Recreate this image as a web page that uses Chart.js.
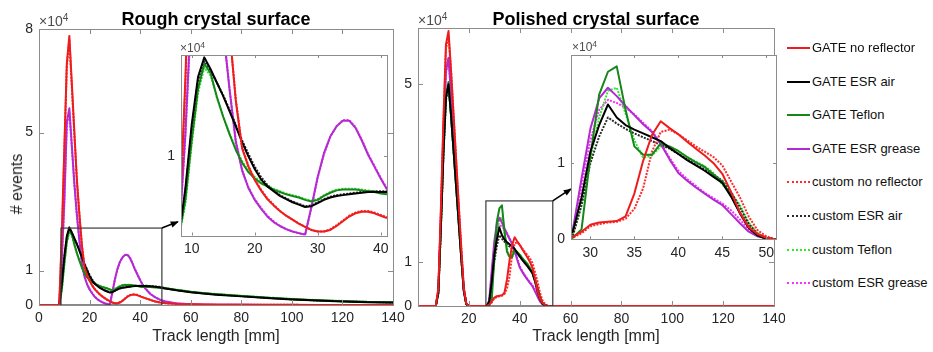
<!DOCTYPE html>
<html><head><meta charset="utf-8">
<script src="https://cdn.jsdelivr.net/npm/chart.js@4.4.1/dist/chart.umd.min.js"></script>
<style>
html,body{margin:0;padding:0;background:#fff;}
#wrap{position:relative;width:933px;height:352px;overflow:hidden;font-family:"Liberation Sans",Arial,Helvetica,sans-serif;color:#262626;}
canvas{position:absolute;}
.lbl{position:absolute;white-space:nowrap;line-height:1;}
.exp{position:absolute;white-space:nowrap;line-height:1;color:#4d4d4d;}
.exp sup{font-size:0.72em;vertical-align:0.5em;line-height:0}
.leg{position:absolute;left:787px;height:15px;width:146px;font-size:13px;line-height:15px;white-space:nowrap;color:#111}
.leg i{position:absolute;left:0;top:7px;width:23px;height:0;border-top-width:2px;}
.leg span{position:absolute;left:25px;top:0}
</style></head>
<body><div id="wrap">
<canvas id="c1" width="412" height="352" style="left:0;top:0"></canvas>
<canvas id="c3" width="390" height="352" style="left:395px;top:0"></canvas>
<canvas id="c2" width="235" height="220" style="left:160px;top:40px"></canvas>
<canvas id="c4" width="233" height="225" style="left:550px;top:40px"></canvas>
<div class="lbl" style="left:216px;top:10px;transform:translateX(-50%);font-weight:bold;font-size:18px;color:#000">Rough crystal surface</div>
<div class="lbl" style="left:596px;top:10px;transform:translateX(-50%);font-weight:bold;font-size:18px;color:#000">Polished crystal surface</div>
<div class="lbl" style="left:216px;top:328px;transform:translateX(-50%);font-size:16px">Track length [mm]</div>
<div class="lbl" style="left:596px;top:328px;transform:translateX(-50%);font-size:16px">Track length [mm]</div>
<div class="lbl" style="left:17px;top:184px;transform:translate(-50%,-50%) rotate(-90deg);font-size:16px"># events</div>
<div class="exp" style="left:39px;top:14px;font-size:14px">×10<sup>4</sup></div>
<div class="exp" style="left:418px;top:13px;font-size:14px">×10<sup>4</sup></div>
<div class="exp" style="left:180px;top:42px;font-size:12px">×10<sup>4</sup></div>
<div class="exp" style="left:572px;top:41px;font-size:12px">×10<sup>4</sup></div>
<div id="legend"></div>
</div>
<script>
// ---------- DATA (values in units of 10^4 events) ----------
const seriesNames = ['GATE no reflector','GATE ESR air','GATE Teflon','GATE ESR grease',
  'custom no reflector','custom ESR air','custom Teflon','custom ESR grease'];

// Rough crystal surface: track length [mm]
const roughX = [0,8,9,10,11,12,13,14,15,16,17,18,19,20,21,22,23,24,25,26,27,28,29,30,31,32,33,34,35,36,37,38,39,40,41,42,44,46,48,50,55,60,65,70,80,90,100,110,120,130,140];
const roughGateNoRefl = [0,0,2.0,4.5,7.0,7.8,6.4,5.0,3.6,2.6,1.7,1.1,0.87,0.7,0.57,0.46,0.38,0.31,0.25,0.2,0.15,0.11,0.07,0.05,0.05,0.07,0.12,0.18,0.24,0.28,0.3,0.3,0.28,0.25,0.22,0.2,0.15,0.1,0.07,0.05,0.03,0.02,0.015,0.01,0.01,0.005,0.005,0,0,0,0];
const roughGateEsrAir = [0,0,0.6,1.4,2.0,2.25,2.1,1.93,1.76,1.57,1.38,1.18,1.0,0.84,0.71,0.62,0.56,0.5,0.46,0.42,0.39,0.36,0.37,0.41,0.45,0.48,0.5,0.51,0.52,0.53,0.54,0.55,0.55,0.55,0.55,0.55,0.54,0.53,0.51,0.48,0.42,0.37,0.33,0.3,0.25,0.2,0.16,0.13,0.1,0.08,0.07];
const roughGateTeflon = [0,0,0.45,1.2,1.85,2.17,2.05,1.75,1.5,1.28,1.08,0.92,0.8,0.72,0.66,0.62,0.58,0.55,0.52,0.5,0.48,0.45,0.43,0.45,0.5,0.54,0.57,0.58,0.58,0.58,0.57,0.56,0.55,0.53,0.52,0.52,0.52,0.51,0.5,0.48,0.43,0.38,0.34,0.31,0.26,0.21,0.17,0.14,0.11,0.09,0.075];
const roughGateEsrGrease = [0,0,1.3,3.0,5.3,5.7,4.6,3.5,2.6,1.85,1.18,0.82,0.6,0.45,0.34,0.24,0.17,0.12,0.08,0.05,0.03,0.01,0.36,0.74,1.04,1.25,1.38,1.45,1.45,1.36,1.2,1.02,0.87,0.72,0.58,0.48,0.32,0.22,0.15,0.1,0.04,0.02,0.01,0.01,0.005,0,0,0,0,0,0];
const roughCustNoRefl = [0,0,1.9,4.4,6.9,7.7,6.3,4.9,3.6,2.6,1.72,1.12,0.88,0.71,0.58,0.47,0.39,0.31,0.25,0.2,0.15,0.11,0.07,0.05,0.05,0.08,0.13,0.19,0.25,0.29,0.31,0.31,0.29,0.26,0.23,0.2,0.15,0.1,0.07,0.05,0.03,0.02,0.015,0.01,0.01,0.005,0.005,0,0,0,0];
const roughCustEsrAir = [0,0,0.55,1.35,1.95,2.2,2.08,1.93,1.77,1.59,1.4,1.2,1.03,0.87,0.74,0.64,0.57,0.51,0.47,0.43,0.4,0.37,0.38,0.42,0.46,0.49,0.51,0.52,0.53,0.54,0.55,0.55,0.56,0.56,0.56,0.56,0.55,0.54,0.52,0.49,0.43,0.38,0.34,0.31,0.26,0.21,0.17,0.13,0.11,0.09,0.07];
const roughCustTeflon = [0,0,0.4,1.15,1.8,2.12,2.02,1.74,1.5,1.29,1.1,0.94,0.82,0.74,0.68,0.63,0.59,0.56,0.53,0.51,0.49,0.46,0.44,0.46,0.51,0.55,0.58,0.59,0.59,0.59,0.58,0.57,0.56,0.54,0.53,0.53,0.53,0.52,0.51,0.49,0.44,0.39,0.35,0.32,0.27,0.22,0.18,0.14,0.12,0.09,0.08];
const roughCustEsrGrease = [0,0,1.25,2.9,5.2,5.6,4.55,3.5,2.6,1.86,1.2,0.83,0.61,0.46,0.35,0.25,0.18,0.12,0.08,0.05,0.03,0.01,0.35,0.73,1.03,1.25,1.38,1.46,1.46,1.37,1.21,1.03,0.88,0.73,0.59,0.49,0.33,0.22,0.15,0.1,0.04,0.02,0.01,0.01,0.005,0,0,0,0,0,0];

// Polished crystal surface
const polX = [0,7,8,9,10,11,12,13,14,15,16,17,18,19,20,27,28,29,30,31,32,33,34,35,36,37,38,39,40,41,42,43,44,45,46,47,48,49,50,51,140];
const polGateNoRefl = [0,0,0.4,2.2,4.2,5.9,6.2,5.3,4.3,3.3,2.3,1.3,0.4,0.05,0, 0,0.03,0.1,0.19,0.22,0.23,0.24,0.3,0.6,1.03,1.37,1.55,1.46,1.38,1.28,1.19,1.1,1.0,0.86,0.62,0.35,0.16,0.07,0.02,0, 0];
const polGateEsrAir = [0,0,0.3,1.8,3.45,4.7,5.0,4.3,3.5,2.7,1.9,1.1,0.35,0.04,0, 0,0.1,0.55,1.15,1.5,1.77,1.6,1.5,1.44,1.39,1.34,1.29,1.2,1.12,1.04,0.97,0.9,0.82,0.74,0.56,0.34,0.15,0.05,0.01,0, 0];
const polGateTeflon = [0,0,0.3,1.8,3.5,4.75,5.05,4.3,3.5,2.7,1.9,1.1,0.35,0.04,0, 0,0.02,0.13,1.09,1.9,2.2,2.27,1.7,1.22,1.11,1.11,1.26,1.22,1.16,1.08,1.01,0.95,0.85,0.76,0.57,0.35,0.16,0.05,0.01,0, 0];
const polGateEsrGrease = [0,0,0.35,2.0,3.9,5.3,5.6,4.8,3.9,3.0,2.1,1.2,0.35,0.04,0, 0,0.12,0.8,1.45,1.85,1.99,1.88,1.75,1.63,1.51,1.41,1.25,1.05,0.87,0.77,0.68,0.6,0.52,0.45,0.33,0.21,0.1,0.04,0.01,0, 0];
const polCustNoRefl = [0,0,0.35,2.1,4.1,5.8,6.1,5.3,4.3,3.3,2.3,1.35,0.45,0.06,0, 0,0.02,0.08,0.17,0.2,0.22,0.23,0.27,0.4,0.67,1.15,1.41,1.44,1.38,1.3,1.22,1.15,1.08,0.97,0.76,0.55,0.3,0.12,0.04,0, 0];
const polCustEsrAir = [0,0,0.3,1.75,3.4,4.65,4.95,4.3,3.5,2.7,1.9,1.1,0.37,0.05,0, 0,0.04,0.45,1.0,1.35,1.6,1.52,1.45,1.39,1.34,1.29,1.24,1.19,1.12,1.05,0.98,0.92,0.85,0.77,0.62,0.42,0.2,0.07,0.02,0, 0];
const polCustTeflon = [0,0,0.3,1.8,3.45,4.7,5.0,4.3,3.5,2.7,1.9,1.1,0.37,0.05,0, 0,0.05,0.45,1.05,1.6,1.95,1.99,1.65,1.3,1.07,1.1,1.22,1.21,1.15,1.08,1.02,0.96,0.87,0.72,0.6,0.45,0.22,0.08,0.02,0, 0];
const polCustEsrGrease = [0,0,0.35,1.95,3.85,5.25,5.55,4.8,3.9,3.0,2.1,1.2,0.37,0.05,0, 0,0.1,0.7,1.3,1.7,1.83,1.79,1.73,1.64,1.53,1.42,1.26,1.07,0.9,0.79,0.7,0.61,0.54,0.47,0.38,0.26,0.13,0.05,0.01,0, 0];

// Tick values
const roughXTicks = [0,20,40,60,80,100,120,140];
const roughYTicks = [0,1,5,8];
const roughInsetXTicks = [10,20,30,40];
const roughInsetYTicks = [1];
const polXTicks = [0,20,40,60,80,100,120,140];
const polYTicks = [0,1,5];
const polInsetXTicks = [30,35,40,45,50];
const polInsetYTicks = [0,1];

// Zoom-box annotations (data units): [x0,x1,y0,y1] and arrow [xa,ya,xb,yb]
const roughBox = [8.7,48.6,0,2.23];
const roughArrow = [48.6,2.23,54.9,2.41];
const polBox = [26.7,53,0,2.37];
const polArrow = [53,2.37,60.1,2.64];

// ---------- STYLE ----------
const FONT = '"Liberation Sans", Arial, Helvetica, sans-serif';
const seriesColors = ['#ee1c1c','#000000','#16861a','#b02cd0','#ff2a2a','#2a2a2a','#33e633','#ff2cff'];
const seriesWidths = [2,2,2,2,2,2,2,2];
const seriesDashes = [[],[],[],[],[2,1.3],[2,1.3],[2,1.3],[2,1.3]];

const mframe = {
  id:'mframe',
  beforeDraw(chart, args, o){
    if(!o.white) return;
    const a = chart.chartArea, ctx = chart.ctx;
    ctx.save(); ctx.fillStyle='#fff'; ctx.fillRect(a.left,a.top,a.right-a.left,a.bottom-a.top); ctx.restore();
  },
  afterDraw(chart, args, o){
    const {ctx, chartArea:a, scales:{x,y}} = chart;
    const L = o.len || 5;
    ctx.save(); ctx.strokeStyle='#8c8c8c'; ctx.lineWidth=1;
    ctx.beginPath();
    x.ticks.forEach(t=>{ const p=Math.round(x.getPixelForValue(t.value))+0.5;
      ctx.moveTo(p,a.bottom); ctx.lineTo(p,a.bottom-L); ctx.moveTo(p,a.top); ctx.lineTo(p,a.top+L); });
    y.ticks.forEach(t=>{ const p=Math.round(y.getPixelForValue(t.value))+0.5;
      ctx.moveTo(a.left,p); ctx.lineTo(a.left+L,p); ctx.moveTo(a.right,p); ctx.lineTo(a.right-L,p); });
    ctx.stroke();
    ctx.strokeRect(Math.round(a.left)+0.5, Math.round(a.top)+0.5, Math.round(a.right)-Math.round(a.left), Math.round(a.bottom)-Math.round(a.top));
    ctx.restore();
  }
};
const zbox = {
  id:'zbox',
  afterDatasetsDraw(chart, args, o){
    if(!o.box) return;
    const {ctx, scales:{x,y}} = chart;
    const X=v=>x.getPixelForValue(v), Y=v=>y.getPixelForValue(v);
    ctx.save();
    ctx.strokeStyle='#3a3a3a'; ctx.lineWidth=1.2;
    const [x0,x1,y0,y1]=o.box;
    ctx.strokeRect(X(x0), Y(y1), X(x1)-X(x0), Y(y0)-Y(y1));
    const [a0,b0,a1,b1]=o.arrow;
    const p0=[X(a0),Y(b0)], p1=[X(a1),Y(b1)];
    ctx.strokeStyle='#000'; ctx.lineWidth=1.6;
    ctx.beginPath(); ctx.moveTo(p0[0],p0[1]); ctx.lineTo(p1[0],p1[1]); ctx.stroke();
    const ang=Math.atan2(p1[1]-p0[1], p1[0]-p0[0]), L=7, W=3.2;
    ctx.fillStyle='#000'; ctx.beginPath(); ctx.moveTo(p1[0]+1,p1[1]-0.3);
    ctx.lineTo(p1[0]-L*Math.cos(ang)+W*Math.sin(ang), p1[1]-L*Math.sin(ang)-W*Math.cos(ang));
    ctx.lineTo(p1[0]-L*Math.cos(ang)-W*Math.sin(ang), p1[1]-L*Math.sin(ang)+W*Math.cos(ang));
    ctx.closePath(); ctx.fill();
    ctx.restore();
  }
};

function build(id, xs, series, cfg){
  const datasets = series.map((ys,i)=>({
    label: seriesNames[i],
    data: xs.map((x,j)=>({x:x, y:ys[j]})),
    borderColor: seriesColors[i], backgroundColor: seriesColors[i],
    borderWidth: seriesWidths[i], borderDash: seriesDashes[i],
    pointRadius:0, showLine:true, tension:0, fill:false, borderJoinStyle:'round'
  }));
  const tickFont = {family:FONT, size:cfg.tickSize};
  return new Chart(document.getElementById(id), {
    type:'scatter',
    data:{datasets},
    options:{
      responsive:false, animation:false, events:[], devicePixelRatio:1,
      layout:{padding:cfg.pad},
      plugins:{legend:{display:false}, tooltip:{enabled:false},
        mframe:{white:!!cfg.white, len:cfg.tickLen}, zbox:cfg.zbox || {}},
      scales:{
        x:{type:'linear', position:'bottom', min:cfg.xr[0], max:cfg.xr[1],
          grid:{display:false, drawTicks:false}, border:{display:false},
          afterBuildTicks:s=>{ s.ticks = cfg.xt.map(v=>({value:v})); },
          afterFit:s=>{ s.height=cfg.xh; s.paddingLeft=0; s.paddingRight=0; },
          ticks:{autoSkip:false, maxRotation:0, minRotation:0, padding:cfg.xpad, color:'#262626', font:tickFont,
            callback:v=>(cfg.hide0 && v===0) ? '' : String(v)}},
        y:{type:'linear', position:'left', min:cfg.yr[0], max:cfg.yr[1],
          grid:{display:false, drawTicks:false}, border:{display:false},
          afterBuildTicks:s=>{ s.ticks = cfg.yt.map(v=>({value:v})); },
          afterFit:s=>{ s.width=cfg.yw; s.paddingTop=0; s.paddingBottom=0; },
          ticks:{autoSkip:false, padding:cfg.ypad, color:'#262626', font:tickFont, callback:v=>String(v)}}
      }
    },
    plugins:[mframe, zbox]
  });
}

const roughSeries = [roughGateNoRefl,roughGateEsrAir,roughGateTeflon,roughGateEsrGrease,roughCustNoRefl,roughCustEsrAir,roughCustTeflon,roughCustEsrGrease];
const polSeries = [polGateNoRefl,polGateEsrAir,polGateTeflon,polGateEsrGrease,polCustNoRefl,polCustEsrAir,polCustTeflon,polCustEsrGrease];

build('c1', roughX, roughSeries, {pad:{left:0,top:29,right:19,bottom:0}, yw:39, xh:47, xr:[0,140], yr:[0,8],
  xt:roughXTicks, yt:roughYTicks, tickSize:14, xpad:5, ypad:6, tickLen:5, zbox:{box:roughBox, arrow:roughArrow}});
build('c3', polX, polSeries, {pad:{left:0,top:28,right:11,bottom:0}, yw:23, xh:46, xr:[0,140], yr:[0,6.27],
  xt:polXTicks, yt:polYTicks, tickSize:14, xpad:5, ypad:6, tickLen:5, hide0:true, zbox:{box:polBox, arrow:polArrow}});
build('c2', roughX, roughSeries, {pad:{left:0,top:15,right:8,bottom:0}, yw:21, xh:24.5, xr:[8.3,41], yr:[0,2.28],
  xt:roughInsetXTicks, yt:roughInsetYTicks, tickSize:14, xpad:5, ypad:6, tickLen:3, white:true});
build('c4', polX, polSeries, {pad:{left:0,top:15,right:7,bottom:0}, yw:21, xh:25.7, xr:[27.8,51.1], yr:[0,2.42],
  xt:polInsetXTicks, yt:polInsetYTicks, tickSize:14, xpad:5, ypad:6, tickLen:3, white:true});

// Legend
const leg = document.getElementById('legend');
seriesNames.forEach((name,i)=>{
  const row = document.createElement('div');
  row.className='leg';
  row.style.top = (40 + i*33.6) + 'px';
  const ln = document.createElement('i');
  ln.style.borderTopStyle = seriesDashes[i].length ? 'dotted' : 'solid';
  ln.style.borderTopColor = seriesColors[i];
  const tx = document.createElement('span');
  tx.textContent = name;
  row.appendChild(ln); row.appendChild(tx);
  leg.appendChild(row);
});
</script>
</body></html>
